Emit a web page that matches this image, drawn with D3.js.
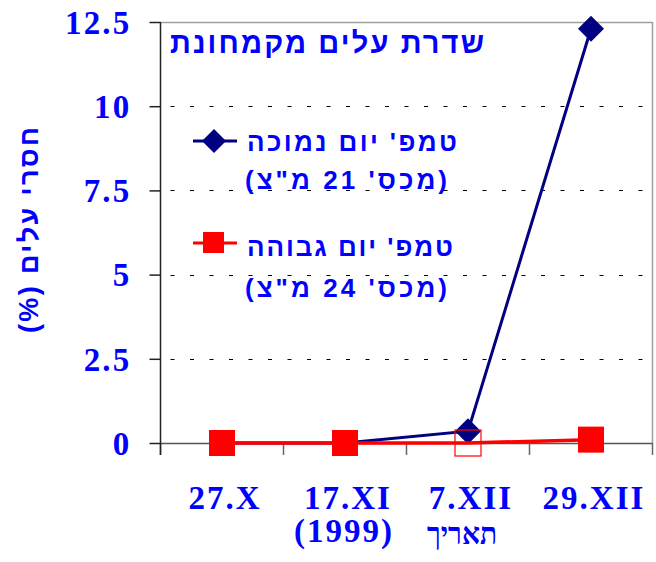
<!DOCTYPE html>
<html><head><meta charset="utf-8">
<script src="https://cdn.jsdelivr.net/npm/d3@7"></script>
<style>html,body{margin:0;padding:0;background:#fff;}svg{display:block;}</style>
</head><body>
<script>
const categories = ["27.X", "17.XI", "7.XII", "29.XII"];
const lowTemp = [0, 0, 0.35, 12.3];   // טמפ' יום נמוכה
const highTemp = [0, 0, 0, 0.1];      // טמפ' יום גבוהה
const yTicks = [0, 2.5, 5, 7.5, 10, 12.5];
const yTickLabels = ["0", "2.5", "5", "7.5", "10", "12.5"];
const titleText = "שדרת עלים מקמחונת";
const yLabel = "חסרי עלים (%)";
const xLabelYear = "(1999)";
const xLabelDate = "תאריך";
const legendLow = ["טמפ' יום נמוכה", "(מכס' 21 מ\"צ)"];
const legendHigh = ["טמפ' יום גבוהה", "(מכס' 24 מ\"צ)"];

(function () {
const W = 656, H = 562;
const pL = 160.5, pR = 652.5, pT = 22, pB = 443;
const svg = d3.select("body").append("svg").attr("width", W).attr("height", H);

const x = d3.scaleBand().domain(categories).range([pL, pR]).padding(0);
const y = d3.scaleLinear().domain([0, 12.5]).range([pB, pT]);
const cx = d => x(d) + x.bandwidth() / 2;

const blue = "#0000ff", navy = "#000080", red = "#ff0000";
const serif = "'Liberation Serif', 'Times New Roman', serif";
const sans = "'Liberation Sans', Arial, sans-serif";

// gridlines
svg.append("g").selectAll("line").data(yTicks.filter(t => t > 0 && t < 12.5)).join("line")
  .attr("x1", pL).attr("x2", pR).attr("y1", d => Math.round(y(d)) + 0.5).attr("y2", d => Math.round(y(d)) + 0.5)
  .attr("stroke", "#000").attr("stroke-width", 1).attr("stroke-dasharray", "4,15.5").attr("stroke-dashoffset", -10);

// plot border top/right
svg.append("line").attr("x1", pL).attr("x2", pR).attr("y1", pT + 0.5).attr("y2", pT + 0.5).attr("stroke", "#a0a0a0").attr("stroke-width", 1.5);
svg.append("line").attr("x1", pR).attr("x2", pR).attr("y1", pT).attr("y2", pB).attr("stroke", "#a0a0a0").attr("stroke-width", 1.5);

// x axis
const xAxis = svg.append("g");
xAxis.append("line").attr("x1", pL).attr("x2", pR).attr("y1", pB + 0.5).attr("y2", pB + 0.5).attr("stroke", "#555").attr("stroke-width", 1.5);
const bounds = categories.map(c => x(c)).concat([pR]);
xAxis.selectAll("line.t").data(bounds).join("line").attr("class", "t")
  .attr("x1", d => d).attr("x2", d => d).attr("y1", pB).attr("y2", pB + 12)
  .attr("stroke", "#666").attr("stroke-width", 1.5);

// y axis
const yAxisG = svg.append("g").attr("transform", `translate(${pL},0)`)
  .call(d3.axisLeft(y).tickValues(yTicks).tickFormat((d, i) => yTickLabels[i]).tickSize(11).tickPadding(18));
yAxisG.select(".domain").attr("stroke", "#222").attr("stroke-width", 1.5).attr("d", `M0,${pT}V${pB + 12}`);
yAxisG.selectAll(".tick line").attr("stroke", "#222").attr("stroke-width", 1.5);
yAxisG.selectAll(".tick text").attr("fill", blue).attr("font-family", serif)
  .attr("font-weight", "bold").attr("font-size", 33).attr("letter-spacing", 2.2).attr("dy", "0.34em");

// x tick labels
svg.append("g").selectAll("text").data(categories).join("text")
  .attr("x", d => cx(d) + 3).attr("y", 509).attr("text-anchor", "middle")
  .attr("fill", blue).attr("font-family", serif).attr("letter-spacing", 2)
  .attr("font-weight", "bold").attr("font-size", 33).text(d => d);
svg.append("text").attr("x", cx(categories[1]) - 1).attr("y", 542).attr("text-anchor", "middle")
  .attr("fill", blue).attr("font-family", serif).attr("letter-spacing", 2)
  .attr("font-weight", "bold").attr("font-size", 33).text(xLabelYear);
svg.append("text").attr("x", cx(categories[2]) - 6).attr("y", 544).attr("text-anchor", "middle").attr("direction", "rtl")
  .attr("fill", blue).attr("font-family", "'DejaVu Serif', serif")
  .attr("font-weight", "bold").attr("font-size", 30).attr("textLength", 70).attr("lengthAdjust", "spacingAndGlyphs").text(xLabelDate);

// series lines
const line = d3.line().x((d, i) => cx(categories[i])).y(d => y(d));
svg.append("path").datum(lowTemp).attr("d", line).attr("fill", "none").attr("stroke", navy).attr("stroke-width", 3);
const diamond = (r) => `M0,${-r}L${r},0L0,${r}L${-r},0Z`;
svg.append("g").selectAll("path").data(lowTemp).join("path")
  .attr("transform", (d, i) => `translate(${cx(categories[i])},${y(d)})`)
  .attr("d", diamond(13)).attr("fill", navy);

svg.append("path").datum(highTemp).attr("d", line).attr("fill", "none").attr("stroke", red).attr("stroke-width", 3.5);
const hollowIdx = 2;
svg.append("g").selectAll("rect").data(highTemp).join("rect")
  .attr("x", (d, i) => cx(categories[i]) - 13).attr("y", d => y(d) - 13)
  .attr("width", 26).attr("height", 26)
  .attr("fill", (d, i) => i === hollowIdx ? "none" : red)
  .attr("stroke", red).attr("stroke-width", (d, i) => i === hollowIdx ? 1.2 : 0);

// title
svg.append("text").attr("x", 327).attr("y", 53).attr("text-anchor", "middle").attr("direction", "rtl")
  .attr("fill", blue).attr("font-family", sans).attr("font-weight", "bold")
  .attr("font-size", 29).attr("textLength", 314).attr("lengthAdjust", "spacing").text(titleText);

// legend
function legendText(lines, cxs, ys, lens) {
  lines.forEach((t, i) => {
    svg.append("text").attr("x", cxs[i]).attr("y", ys[i]).attr("text-anchor", "middle").attr("direction", "rtl")
      .attr("fill", blue).attr("font-family", sans).attr("font-weight", "bold")
      .attr("font-size", 26).attr("textLength", lens[i]).attr("lengthAdjust", "spacing").text(t);
  });
}
svg.append("line").attr("x1", 193).attr("x2", 237).attr("y1", 141).attr("y2", 141).attr("stroke", navy).attr("stroke-width", 3);
svg.append("path").attr("transform", "translate(214,141)").attr("d", diamond(12)).attr("fill", navy);
legendText(legendLow, [352, 346], [151, 189], [210, 202]);

svg.append("line").attr("x1", 193).attr("x2", 237).attr("y1", 243).attr("y2", 243).attr("stroke", red).attr("stroke-width", 3);
svg.append("rect").attr("x", 203).attr("y", 232).attr("width", 21).attr("height", 21).attr("fill", red);
legendText(legendHigh, [350, 346], [256, 297], [206, 202]);

// y label
svg.append("text").attr("transform", "translate(38,230) rotate(-90)").attr("text-anchor", "middle").attr("direction", "rtl")
  .attr("fill", blue).attr("font-family", sans).attr("font-weight", "bold")
  .attr("font-size", 27).attr("textLength", 206).attr("lengthAdjust", "spacing").text(yLabel);
})();
</script>
</body></html>
